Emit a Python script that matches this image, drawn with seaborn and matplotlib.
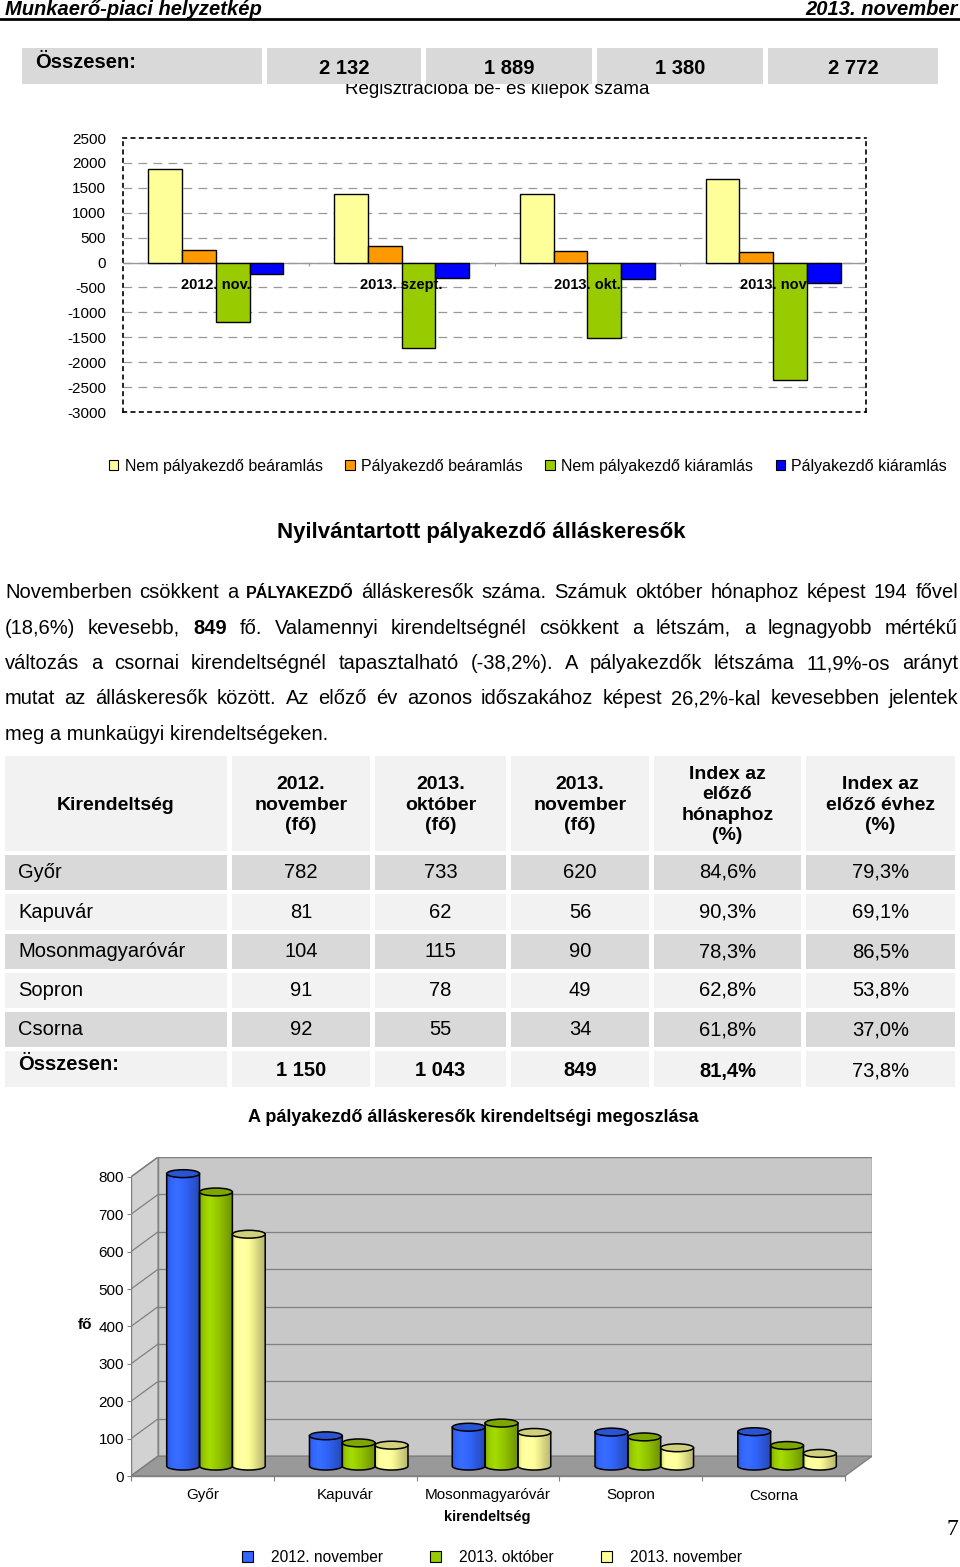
import matplotlib
matplotlib.use("Agg")
import matplotlib.pyplot as plt
from matplotlib.patches import Rectangle, Polygon, Ellipse, Patch
import numpy as np
import pandas as pd
import seaborn as sns

# ---- data -------------------------------------------------------------
page_title = "Munkaerő-piaci helyzetkép"
page_date = "2013. november"
top_totals = [2132, 1889, 1380, 2772]

flow_cats = ["2012. nov.", "2013. szept.", "2013. okt.", "2013. nov"]
flow_series = ["Nem pályakezdő beáramlás", "Pályakezdő beáramlás",
               "Nem pályakezdő kiáramlás", "Pályakezdő kiáramlás"]
nem_pk_be = [1870, 1375, 1375, 1680]
pk_be = [260, 330, 230, 205]
nem_pk_ki = [-1185, -1715, -1515, -2355]
pk_ki = [-220, -320, -340, -420]
flow_colors = ["#FFFF99", "#FF9900", "#99CC00", "#0000FF"]

offices = ["Győr", "Kapuvár", "Mosonmagyaróvár", "Sopron", "Csorna"]
nov_2012 = [782, 81, 104, 91, 92]
okt_2013 = [733, 62, 115, 78, 55]
nov_2013 = [620, 56, 90, 49, 34]
idx_month = [84.6, 90.3, 78.3, 62.8, 61.8]
idx_year = [79.3, 69.1, 86.5, 53.8, 37.0]
tot_row = [1150, 1043, 849]
tot_idx_month = 81.4
tot_idx_year = 73.8
periods = ["2012. november", "2013. október", "2013. november"]
period_colors = ["#3366FF", "#99CC00", "#FFFF99"]

para_lines = [
    [("Novemberben", {}), ("csökkent", {}), ("a", {}), ("PÁLYAKEZDŐ", {"weight": "bold", "size": 11.5}),
     ("álláskeresők", {}), ("száma.", {}), ("Számuk", {}), ("október", {}), ("hónaphoz", {}),
     ("képest", {}), ("194", {}), ("fővel", {})],
    [("(18,6%)", {}), ("kevesebb,", {}), ("849", {"weight": "bold"}), ("fő.", {}), ("Valamennyi", {}),
     ("kirendeltségnél", {}), ("csökkent", {}), ("a", {}), ("létszám,", {}), ("a", {}),
     ("legnagyobb", {}), ("mértékű", {})],
    [(w, {}) for w in "változás a csornai kirendeltségnél tapasztalható (-38,2%). A pályakezdők létszáma 11,9%-os arányt".split()],
    [(w, {}) for w in "mutat az álláskeresők között. Az előző év azonos időszakához képest 26,2%-kal kevesebben jelentek".split()],
    [("meg a munkaügyi kirendeltségeken.", {})],
]

# ---- setup ------------------------------------------------------------
sns.set_theme(style="white")
plt.rcParams["font.family"] = ["Liberation Sans", "DejaVu Sans"]
plt.rcParams["axes.unicode_minus"] = False
for k in ["text.color", "axes.labelcolor", "xtick.color", "ytick.color"]:
    plt.rcParams[k] = "black"

W, H = 960, 1567
fig = plt.figure(figsize=(W / 100, H / 100), dpi=100)
page = fig.add_axes([0, 0, 1, 1], zorder=0)
page.set_xlim(0, W)
page.set_ylim(H, 0)
page.axis("off")
renderer = fig.canvas.get_renderer()


def ax_box(x0, y0, x1, y1):
    a = fig.add_axes([x0 / W, 1 - y1 / H, (x1 - x0) / W, (y1 - y0) / H], zorder=1)
    a.set_facecolor("none")
    return a


def fmt_pct(v):
    return f"{v:.1f}".replace(".", ",") + "%"


def fmt_int(v):
    return f"{v:,}".replace(",", " ")


LIGHT, DARK = "#F2F2F2", "#D9D9D9"

# header
page.text(5, 15, page_title, fontsize=14.5, weight="bold", style="italic", va="baseline")
page.text(958, 15, page_date, fontsize=14.5, weight="bold", style="italic", va="baseline", ha="right")
page.plot([0, W], [19, 19], color="black", lw=2)

# chart title partly hidden by the totals row
page.text(497, 94, "Regisztrációba be- és kilépők száma", fontsize=13.5, ha="center",
          va="baseline", zorder=1)
box_x = [(22, 262), (267, 421), (426, 592), (597, 763), (768, 938)]
for (x0, x1) in box_x:
    page.add_patch(Rectangle((x0, 48), x1 - x0, 36, fc=DARK, ec="none", zorder=2))
page.text(35, 68, "Összesen:", fontsize=14.5, weight="bold", va="baseline", zorder=3)
for (x0, x1), v in zip(box_x[1:], top_totals):
    page.text((x0 + x1) / 2, 74, fmt_int(v), fontsize=14.5, weight="bold", ha="center",
              va="baseline", zorder=3)

# ---- chart 1: in/out flows ---------------------------------------------
flow_df = pd.DataFrame({
    "cat": flow_cats * 4,
    "series": sum([[s] * len(flow_cats) for s in flow_series], []),
    "value": nem_pk_be + pk_be + nem_pk_ki + pk_ki,
})
ax1 = ax_box(123, 138, 866, 412)
sns.barplot(data=flow_df, x="cat", y="value", hue="series", hue_order=flow_series,
            palette=flow_colors, width=0.727, edgecolor="black", linewidth=1,
            errorbar=None, legend=False, ax=ax1, zorder=3, saturation=1)
ax1.set_ylim(-3000, 2500)
ax1.set_xlim(-0.5, len(flow_cats) - 0.5)
ax1.set_yticks(range(-3000, 2501, 500))
ax1.tick_params(axis="y", length=0, pad=12, labelsize=11)
ax1.set_xticks([])
ax1.set_xlabel("")
ax1.set_ylabel("")
ax1.yaxis.grid(True, color="#999999", lw=0.9, linestyle=(0, (7, 5)))
gls = ax1.get_ygridlines()
gls[0].set_visible(False)
gls[-1].set_visible(False)
ax1.set_axisbelow(True)
ax1.axhline(0, color="#999999", lw=1, zorder=2)
ax1.vlines(np.arange(len(flow_cats) - 1) + 0.5, -70, 0, color="#999999", lw=0.8)
for s in ax1.spines.values():
    s.set_visible(True)
    s.set_color("black")
    s.set_linestyle((0, (2, 3)))
    s.set_linewidth(1.2)
for i, c in enumerate(flow_cats):
    ax1.text(i, -460, c, ha="center", va="center", fontsize=10.5, weight="bold", zorder=5)

fig.legend(handles=[Patch(fc=c, ec="black", lw=0.8) for c in flow_colors], labels=flow_series,
           loc="center", bbox_to_anchor=(528 / W, 1 - 466 / H), ncol=4, frameon=False,
           fontsize=11.5, handlelength=0.6, handleheight=0.6, handletextpad=0.4,
           columnspacing=1.4, borderpad=0, borderaxespad=0)

# ---- heading and paragraph ----------------------------------------------
page.text(481, 538, "Nyilvántartott pályakezdő álláskeresők", fontsize=16, weight="bold",
          ha="center", va="baseline")


def put_line(y, words, x0, x1, last):
    objs = []
    for txt, kw in words:
        objs.append(page.text(0, y, txt, fontsize=kw.get("size", 14.5),
                              weight=kw.get("weight", "normal"), va="baseline"))
    widths = [t.get_window_extent(renderer).width for t in objs]
    gap = 5.6 if last or len(objs) < 2 else (x1 - x0 - sum(widths)) / (len(objs) - 1)
    x = x0
    for t, w in zip(objs, widths):
        t.set_x(x)
        x += w + gap


base_y = [598, 633.5, 669, 704.5, 740]
for i, (y, words) in enumerate(zip(base_y, para_lines)):
    put_line(y, words, 5, 958, i == len(para_lines) - 1)

# ---- table ----------------------------------------------------------------
col_x = [(5, 227), (232, 370), (375, 506), (511, 649), (654, 801), (806, 955)]
row_y = [(855, 890), (894, 930), (934, 969), (973, 1008), (1012, 1047), (1051, 1087)]
headers = ["Kirendeltség", "2012.\nnovember\n(fő)", "2013.\noktóber\n(fő)",
           "2013.\nnovember\n(fő)", "Index az\nelőző\nhónaphoz\n(%)", "Index az\nelőző évhez\n(%)"]
for (x0, x1), h in zip(col_x, headers):
    page.add_patch(Rectangle((x0, 756), x1 - x0, 95, fc=LIGHT, ec="none"))
    page.text((x0 + x1) / 2, 805, h, fontsize=14, weight="bold", ha="center", va="center",
              linespacing=1.25)

rows = []
for i in range(len(offices)):
    rows.append([offices[i], str(nov_2012[i]), str(okt_2013[i]), str(nov_2013[i]),
                 fmt_pct(idx_month[i]), fmt_pct(idx_year[i])])
rows.append(["Összesen:"] + [fmt_int(v) for v in tot_row] + [fmt_pct(tot_idx_month), fmt_pct(tot_idx_year)])

for r, ((y0, y1), vals) in enumerate(zip(row_y, rows)):
    fc = DARK if r % 2 == 0 and r < len(offices) else LIGHT
    total = r == len(offices)
    for c, ((x0, x1), v) in enumerate(zip(col_x, vals)):
        page.add_patch(Rectangle((x0, y0), x1 - x0, y1 - y0, fc=fc, ec="none"))
        bold = total and c < 5
        yc = (y0 + y1) / 2 + (2 if total else 0)
        if c == 0:
            page.text(18, yc - (7 if total else 0), v, fontsize=14.5,
                      weight="bold" if total else "normal", va="center")
        else:
            page.text((x0 + x1) / 2, yc, v, fontsize=14.5, weight="bold" if bold else "normal",
                      ha="center", va="center")

# ---- chart 3: pseudo 3D cylinders -------------------------------------------
page.text(473, 1122, "A pályakezdő álláskeresők kirendeltségi megoszlása", fontsize=13,
          weight="bold", ha="center", va="baseline")

ddx, ddy = 0.19, 53          # depth offset (category units, value units)
ell_h = 21                   # cylinder cap height in value units
ymax = 800
n = len(offices)

off_df = pd.DataFrame({
    "office": offices * 3,
    "period": sum([[p] * n for p in periods], []),
    "value": nov_2012 + okt_2013 + nov_2013,
})
ax3 = ax_box(131, 1157, 872, 1476)
sns.barplot(data=off_df, x="office", y="value", hue="period", hue_order=periods,
            palette=period_colors, width=0.69, errorbar=None, legend=False, ax=ax3,
            saturation=1)
bars = list(ax3.patches)

left, right = -0.5, n - 0.5
# walls and floor
ax3.add_patch(Rectangle((left + ddx, ddy), right - left, ymax, fc="#C8C8C8", ec="#808080",
                        lw=1, zorder=0.5))
ax3.add_patch(Polygon([(left, 0), (left + ddx, ddy), (left + ddx, ymax + ddy), (left, ymax)],
                      fc="#D2D2D2", ec="#808080", lw=1, zorder=0.5))
ax3.add_patch(Polygon([(left, 0), (right, 0), (right + ddx, ddy), (left + ddx, ddy)],
                      fc="#999999", ec="#808080", lw=1, zorder=0.6))
for v in range(100, ymax, 100):
    ax3.plot([left + ddx, right + ddx], [v + ddy, v + ddy], color="#808080", lw=0.9, zorder=0.7)
for v in range(0, ymax + 1, 100):
    ax3.plot([left, left + ddx], [v, v + ddy], color="#808080", lw=0.9, zorder=0.7)
ax3.plot([left, left], [0, ymax], color="#808080", lw=1, zorder=0.8)
ax3.plot([left, right], [0, 0], color="#808080", lw=1, zorder=0.8, clip_on=False)
ax3.vlines(np.arange(n + 1) - 0.5, -14, 0, color="#808080", lw=0.8, clip_on=False)

shade_t = [0.0, 0.12, 0.3, 0.6, 0.85, 1.0]
shade_f = [0.85, 1.0, 1.08, 0.95, 0.8, 0.72]
tt = np.linspace(0, 1, 60)
mult = np.interp(tt, shade_t, shade_f)
arc = np.linspace(0, np.pi, 40)
for p in bars:
    x, w, h = p.get_x() + ddx / 2, p.get_width(), p.get_height()
    y0 = ddy / 2
    base = np.array(p.get_facecolor()[:3])
    p.set_visible(False)
    xs = x + w / 2 - (w / 2) * np.cos(arc)
    ys = y0 - (ell_h / 2) * np.sin(arc)
    body = np.vstack([np.c_[xs, ys], [[x + w, y0 + h], [x, y0 + h]]])
    poly = Polygon(body, closed=True, fc="none", ec="black", lw=1.1, zorder=3)
    ax3.add_patch(poly)
    grad = np.clip(base[None, None, :] * mult[None, :, None], 0, 1)
    im = ax3.imshow(grad, extent=[x, x + w, y0 - ell_h / 2, y0 + h], aspect="auto",
                    interpolation="bilinear", zorder=2.5)
    im.set_clip_path(poly)
    ax3.add_patch(Ellipse((x + w / 2, y0 + h), w, ell_h, fc=base * 0.82, ec="black",
                          lw=1.1, zorder=4))

ax3.set_xlim(left, right + ddx)
ax3.set_ylim(0, ymax + ddy)
ax3.set_aspect("auto")
for s in ax3.spines.values():
    s.set_visible(False)
ax3.set_yticks(range(0, ymax + 1, 100))
ax3.tick_params(axis="y", left=True, length=3, width=0.8, color="#808080", pad=2, labelsize=11)
ax3.tick_params(axis="x", length=0, pad=9, labelsize=11)
ax3.set_xlabel("kirendeltség", fontsize=10.5, weight="bold")
ax3.xaxis.set_label_coords((487 - 131) / 741, (1476 - 1510) / 319)
ax3.set_ylabel("fő", fontsize=11, weight="bold", rotation=0, va="center", ha="center")
ax3.yaxis.set_label_coords((85 - 131) / 741, (1476 - 1325) / 319)

fig.legend(handles=[Patch(fc=c, ec="black", lw=0.8) for c in period_colors], labels=periods,
           loc="center", bbox_to_anchor=(492 / W, 1 - 1557 / H), ncol=3, frameon=False,
           fontsize=11.2, handlelength=0.7, handleheight=0.7, handletextpad=1.2,
           columnspacing=3.0, borderpad=0, borderaxespad=0)

page.text(952, 1535, "7", family=["Liberation Serif", "DejaVu Serif"], fontsize=17,
          ha="center", va="baseline")

fig.savefig("out.png", dpi=100)
